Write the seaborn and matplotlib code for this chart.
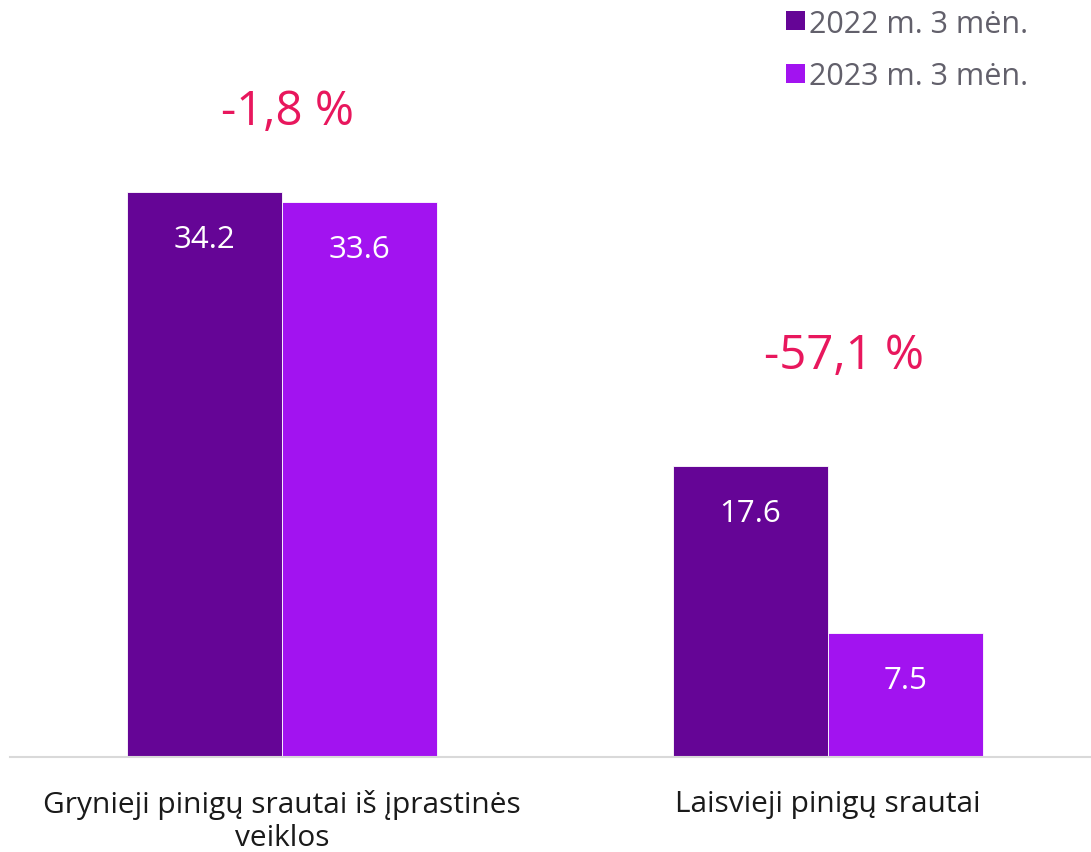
import pandas as pd
import matplotlib
matplotlib.use("Agg")
import matplotlib.pyplot as plt
import seaborn as sns

categories = ["Grynieji pinigų srautai iš įprastinės\nveiklos", "Laisvieji pinigų srautai"]
periods = ["2022 m. 3 mėn.", "2023 m. 3 mėn."]
values_2022 = [34.2, 17.6]
values_2023 = [33.6, 7.5]
changes = ["-1,8 %", "-57,1 %"]

colors = ["#650596", "#A213F0"]
red = "#E8175D"

df = pd.DataFrame({
    "category": categories * 2,
    "period": [periods[0]] * 2 + [periods[1]] * 2,
    "value": values_2022 + values_2023,
})

sns.set_theme(style="white")
plt.rcParams["font.family"] = ["Open Sans", "DejaVu Sans"]

fig = plt.figure(figsize=(10.91, 8.53), dpi=100)
ax = fig.add_axes([0.0092, 0.1114, 0.9908, 0.775])

sns.barplot(data=df, x="category", y="value", hue="period", palette=colors,
            saturation=1, width=0.568, edgecolor="white", linewidth=0.6, ax=ax)

ax.set_ylim(0, 40)
ax.set_xlim(-0.498, 1.482)

for cont in ax.containers:
    for bar in cont:
        h = bar.get_height()
        ax.annotate(f"{h:.1f}", (bar.get_x() + bar.get_width() / 2, h),
                    xytext=(0, -34), textcoords="offset points",
                    ha="center", va="center", color="white", fontsize=22.5)

# change labels above groups
ax.text(0.01, 39.1, changes[0], ha="center", va="center", color=red, fontsize=34)
ax.text(1.03, 24.3, changes[1], ha="center", va="center", color=red, fontsize=34)

ax.set_xlabel("")
ax.set_ylabel("")
ax.set_yticks([])
for s in ["top", "right", "left"]:
    ax.spines[s].set_visible(False)
ax.spines["bottom"].set_color("#D9D9D9")
ax.spines["bottom"].set_linewidth(1.5)
ax.tick_params(axis="x", length=0, pad=23, labelsize=21.5, labelcolor="#1a1a1a")
for lbl in ax.get_xticklabels():
    lbl.set_linespacing(1.2)

leg = ax.legend(loc="upper left", bbox_to_anchor=(0.715, 0.996), bbox_transform=fig.transFigure,
                frameon=False, fontsize=22, handlelength=0.6, handleheight=0.6,
                handletextpad=0.15, labelspacing=0.75, borderaxespad=0, borderpad=0.2)
for t in leg.get_texts():
    t.set_color("#62606B")
for h in leg.legend_handles:
    h.set_edgecolor("none")

fig.savefig("out.png", dpi=100)
